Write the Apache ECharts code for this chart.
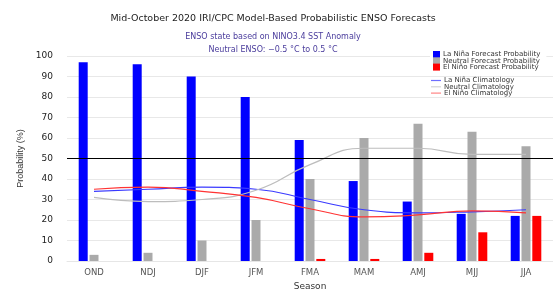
<!DOCTYPE html>
<html>
<head>
<meta charset="utf-8">
<style>
  html, body { margin: 0; padding: 0; background: #fff; }
  #enso-chart { width: 553px; height: 291px; }
</style>
<script src="https://cdn.jsdelivr.net/npm/echarts@6/dist/echarts.min.js"></script>
</head>
<body>
<div id="enso-chart"></div>
<script>
// seasons on the x axis
const seasons = ['OND', 'NDJ', 'DJF', 'JFM', 'FMA', 'MAM', 'AMJ', 'MJJ', 'JJA'];

// forecast probabilities (%)
const laNinaProb = [97, 96, 90, 80, 59, 39, 29, 23, 22];
const neutralProb = [3, 4, 10, 20, 40, 60, 67, 63, 56];
const elNinoProb = [0, 0, 0, 0, 1, 1, 4, 14, 22];

// climatology (%)
const laNinaClim = [34, 35, 36, 35, 30, 25, 23.5, 24, 25];
const neutralClim = [31, 29, 30, 34.5, 47, 55, 55, 52, 52];
const elNinoClim = [35, 36, 34, 31, 25.5, 21.5, 22.5, 24.5, 23.5];

const yTicks = [0, 10, 20, 30, 40, 50, 60, 70, 80, 90, 100];

let chartDom = document.getElementById('enso-chart');
let chart = echarts.init(chartDom, null, { renderer: 'canvas' });
let option;

const font = 'DejaVu Sans';

function barSeries(name, color, data) {
  return {
    name: name,
    type: 'bar',
    barWidth: 9,
    barGap: '20%',
    itemStyle: { color: color },
    data: data
  };
}

function climSeries(name, color, data) {
  return {
    name: name,
    type: 'line',
    smooth: true,
    showSymbol: false,
    symbol: 'none',
    lineStyle: { color: color, width: 1.2 },
    itemStyle: { color: color },
    data: data
  };
}

// legend entry for a climatology line, drawn lighter like the original
function climLegend(name, color) {
  return {
    name: name,
    icon: 'rect',
    itemStyle: { color: color, borderWidth: 0 },
    lineStyle: { color: color, width: 0 }
  };
}

option = {
  animation: false,
  backgroundColor: '#fff',
  title: [
    {
      text: 'Mid-October 2020 IRI/CPC Model-Based Probabilistic ENSO Forecasts',
      left: 268,
      textAlign: 'center',
      top: 9,
      textStyle: { fontFamily: font, fontSize: 9.5, fontWeight: 'normal', color: '#222' }
    },
    {
      text: 'ENSO state based on NINO3.4 SST Anomaly\nNeutral ENSO: \u22120.5 \u00b0C to 0.5 \u00b0C',
      left: 268,
      textAlign: 'center',
      top: 25,
      textStyle: { fontFamily: font, fontSize: 8, fontWeight: 'normal', color: '#4a3c9c', lineHeight: 13 }
    }
  ],
  legend: [
    {
      orient: 'vertical',
      left: 430,
      top: 50,
      padding: [1, 6, 1, 3],
      backgroundColor: '#fff',
      itemWidth: 7,
      itemHeight: 7,
      itemGap: -0.7,
      icon: 'rect',
      textStyle: { fontFamily: font, fontSize: 7, color: '#333', lineHeight: 7, padding: [0, 0, 0, -2] },
      data: ['La Niña Forecast Probability', 'Neutral Forecast Probability', 'El Niño Forecast Probability']
    },
    {
      orient: 'vertical',
      left: 430,
      top: 76,
      padding: [1, 6, 1, 1],
      itemWidth: 10,
      itemHeight: 1.2,
      itemGap: -0.7,
      textStyle: { fontFamily: font, fontSize: 7, color: '#333', lineHeight: 7, padding: [0, 0, 0, -2] },
      data: [
        climLegend('La Niña Climatology', '#6f6fff'),
        climLegend('Neutral Climatology', '#d4d4d4'),
        climLegend('El Niño Climatology', '#ff8585')
      ]
    }
  ],
  grid: {
    left: 67,
    right: 0,
    top: 56,
    bottom: 30,
    outerBoundsMode: 'none'
  },
  xAxis: {
    type: 'category',
    data: seasons,
    name: 'Season',
    nameLocation: 'middle',
    nameGap: 21,
    nameTextStyle: { fontFamily: font, fontSize: 9, color: '#333' },
    axisLine: { lineStyle: { color: '#e6e6e6' } },
    axisTick: { show: false },
    axisLabel: { fontFamily: font, fontSize: 8.5, color: '#555', margin: 7 }
  },
  yAxis: {
    type: 'value',
    min: 0,
    max: 100,
    interval: 10,
    name: 'Probability (%)',
    nameLocation: 'middle',
    nameGap: 42,
    nameTextStyle: { fontFamily: 'Liberation Sans', fontSize: 9, color: '#333' },
    axisLine: { show: false },
    axisTick: { show: false },
    axisLabel: {
      fontFamily: font,
      fontSize: 9,
      color: '#222',
      margin: 14,
      formatter: function (v) { return yTicks.indexOf(v) >= 0 ? String(v) : ''; }
    },
    splitLine: { lineStyle: { color: '#e8e8e8' } }
  },
  series: [
    Object.assign(barSeries('La Niña Forecast Probability', '#0000ff', laNinaProb), {
      markLine: {
        silent: true,
        symbol: 'none',
        label: { show: false },
        lineStyle: { color: '#000', width: 1, type: 'solid' },
        data: [{ yAxis: 50 }]
      }
    }),
    barSeries('Neutral Forecast Probability', '#aaaaaa', neutralProb),
    barSeries('El Niño Forecast Probability', '#ff0000', elNinoProb),
    climSeries('La Niña Climatology', '#3a3aff', laNinaClim),
    climSeries('Neutral Climatology', '#bdbdbd', neutralClim),
    climSeries('El Niño Climatology', '#ff3333', elNinoClim)
  ]
};

option && chart.setOption(option);
</script>
</body>
</html>
